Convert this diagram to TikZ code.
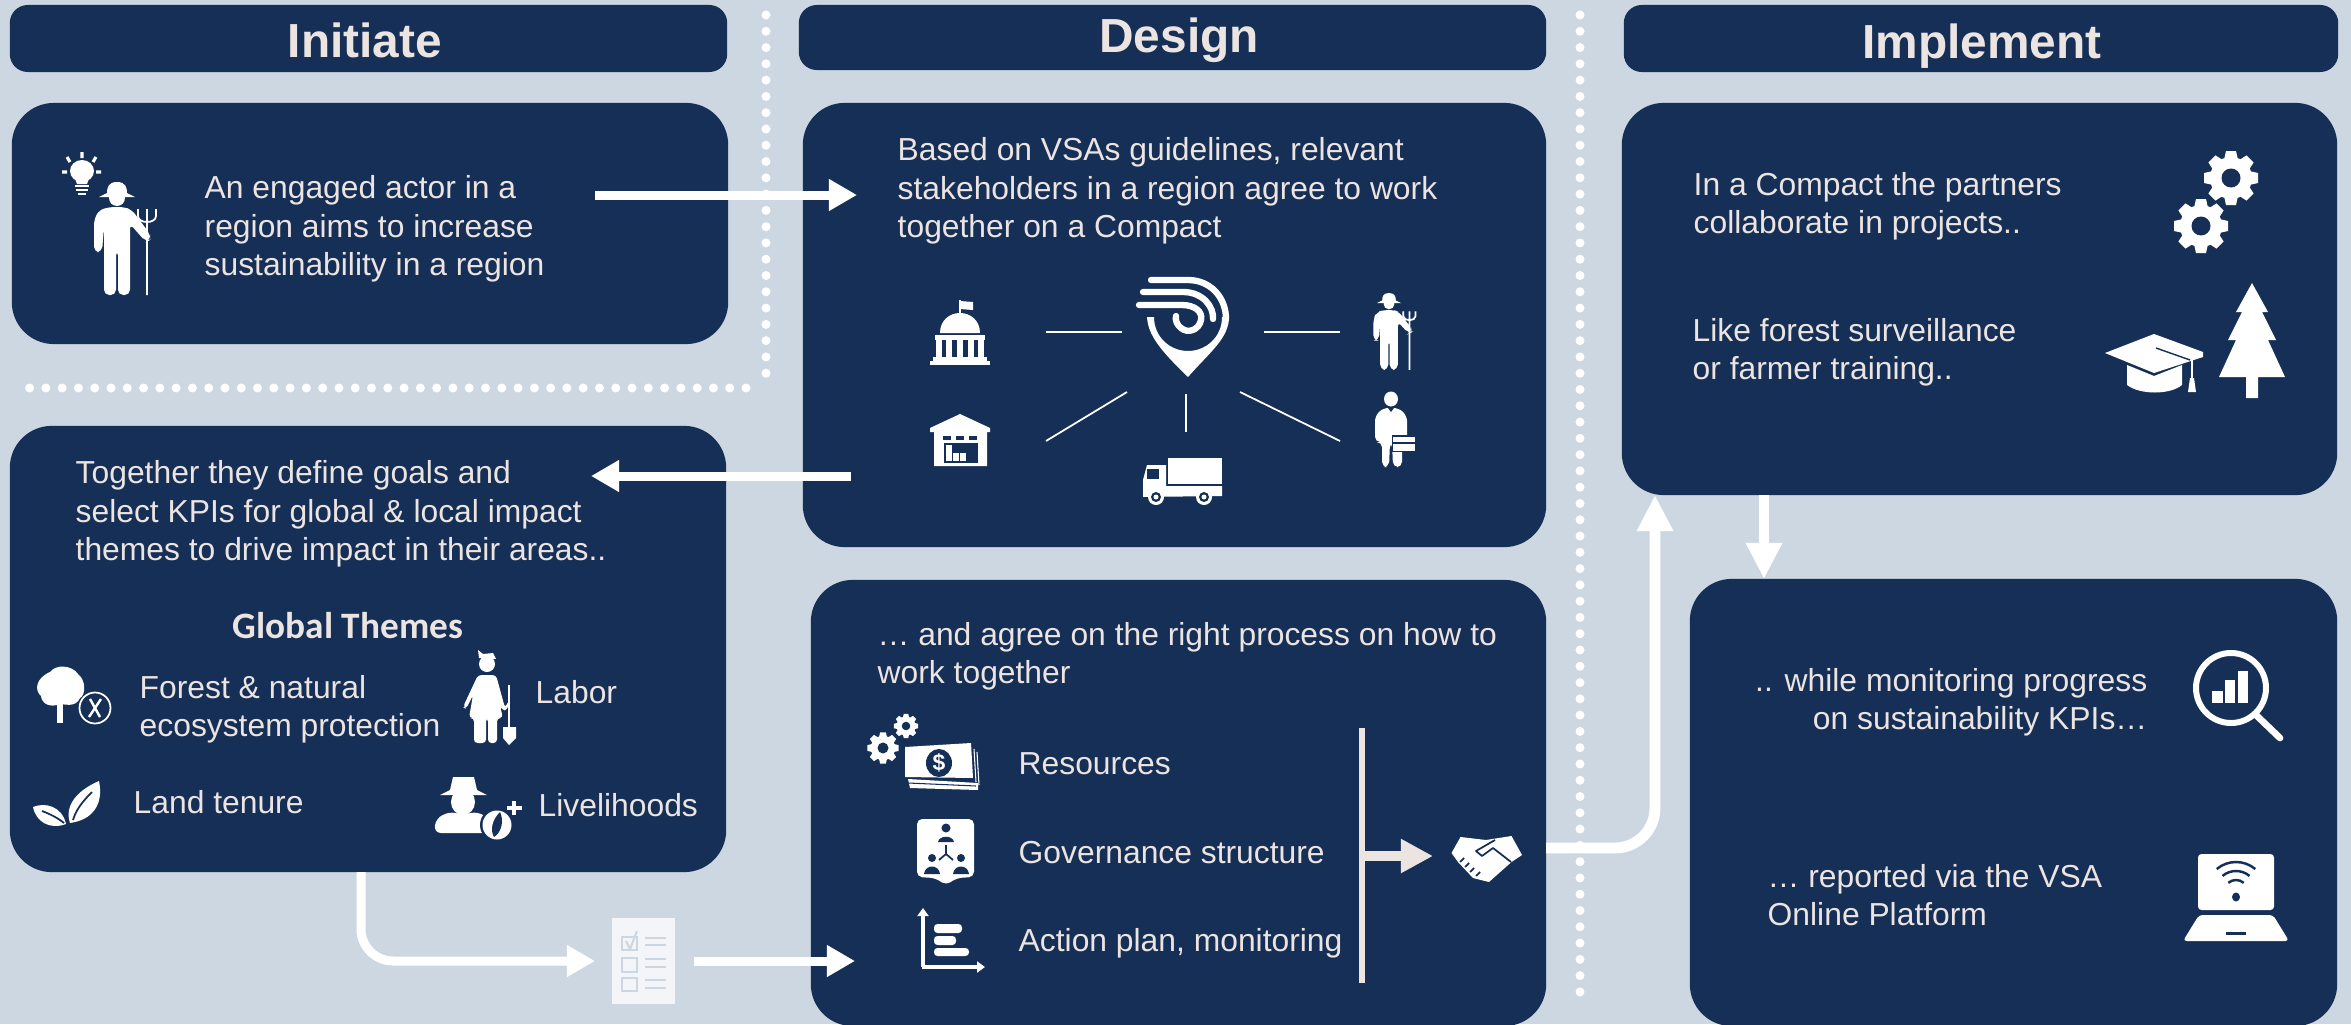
\documentclass[tikz,border=0pt]{standalone}
\usepackage{fontspec}
\setmainfont{Liberation Sans}
\newfontfamily\themefont{Carlito}
\usetikzlibrary{arrows.meta}
\definecolor{navybox}{HTML}{162F56}
\definecolor{paleback}{HTML}{CDD7E2}
\definecolor{warmtext}{HTML}{EBE4E1}
\definecolor{sheetwhite}{HTML}{F3F5F8}

\begin{document}
\begin{tikzpicture}
[
x=0.01cm,y=-0.01cm,
panel/.style={draw=none,fill=navybox,rounded corners=0.42cm,inner sep=0pt},
headbar/.style={panel,rounded corners=0.18cm},
headtext/.style={text=warmtext,inner sep=0pt,font=\fontsize{13.6}{15}\selectfont\bfseries},
bodytext/.style={text=warmtext,inner sep=0pt,anchor=west,align=left,font=\fontsize{9.05}{10.9}\selectfont},
flow/.style={draw=white,line width=2.56pt,-{Triangle[length=0.28cm,width=0.3cm]}},
bigflow/.style={draw=white,line width=3.1pt,rounded corners=0.4cm,-{Triangle[length=0.36cm,width=0.34cm]}},
dotline/.style={draw=white,line width=2.56pt,line cap=round,dash pattern=on 0pt off 4.63pt},
spoke/.style={draw=white,line width=0.5pt},
farmer/.pic={
  \fill[white] (0,0) .. controls (-9,0) and (-10,6) .. (-10,11) -- (-18,15) -- (18,15) -- (10,11) .. controls (10,6) and (9,0) .. (0,0) -- cycle;
  \fill[white] (0,16) circle[radius=8];
  \fill[white,rounded corners=1.5] (-7,25) -- (7,25) -- (15,28) -- (33,52) -- (33,58) -- (29,60) -- (13,42) -- (13,113) -- (1,113) -- (1,68) -- (-1,68) -- (-1,113) -- (-13,113) -- (-13,45) -- (-15,70) -- (-23,70) -- (-23,38) -- (-18,28) -- cycle;
  \draw[white,line width=0.5pt] (30,27) -- (30,113) (21,27) -- (21,34) .. controls (21,42) and (39,42) .. (39,34) -- (39,27);
},
gearwheel/.pic={
  \foreach \a in {0,45,...,315} {\fill[white,rotate=\a] (-5,-27) -- (5,-27) -- (7,-18) -- (-7,-18) -- cycle;}
  \fill[white] (0,0) circle[radius=21];
  \fill[navybox] (0,0) circle[radius=9.5];
},
]
\useasboundingbox (0,0) rectangle (2351,1024);
\fill[paleback] (0,0) rectangle (2351,1024);

\coordinate (dotAtop) at (766,15);
\coordinate (dotAend) at (766,377);
\coordinate (dotBtop) at (746,388);
\coordinate (dotBend) at (26,388);
\coordinate (dotCtop) at (1580,15);
\coordinate (dotCend) at (1580,994);
\draw[dotline] (dotAtop) -- (dotAend);
\draw[dotline] (dotBtop) -- (dotBend);
\draw[dotline] (dotCtop) -- (dotCend);

\node[headbar,minimum width=7.17cm,minimum height=0.67cm] (initiatehead) at (368.5,38.5) {};
\node[headbar,minimum width=7.47cm,minimum height=0.65cm] (designhead) at (1172.5,37.5) {};
\node[headbar,minimum width=7.14cm,minimum height=0.67cm] (implementhead) at (1981,38.5) {};
\node[headtext] (initiatetext) at (365,40) {Initiate};
\node[headtext] (designtext) at (1179,40) {Design};
\node[headtext] (implementtext) at (1982,46) {Implement};

\node[panel,minimum width=7.16cm,minimum height=2.41cm] (initone) at (370,223.5) {};
\node[panel,minimum width=7.16cm,minimum height=4.46cm] (inittwo) at (368,649) {};
\node[panel,minimum width=7.43cm,minimum height=4.44cm] (desone) at (1174.5,325) {};
\node[panel,minimum width=7.35cm,minimum height=4.46cm] (destwo) at (1178.5,803) {};
\node[panel,minimum width=7.15cm,minimum height=3.92cm] (impone) at (1979.5,299) {};
\node[panel,minimum width=6.47cm,minimum height=4.47cm] (imptwo) at (2013.5,802.5) {};

\node[bodytext] (actortext) at (204,229) {An engaged actor in a\\region aims to increase\\sustainability in a region};
\node[bodytext] (agreetext) at (897,191) {Based on VSAs guidelines, relevant\\stakeholders in a region agree to work\\together on a Compact};
\node[bodytext] (goaltext) at (75,514) {Together they define goals and\\select KPIs for global \& local impact\\themes to drive impact in their areas..};
\node[text=warmtext,inner sep=0pt,font=\themefont\fontsize{10.6}{12}\selectfont\bfseries] (globaltext) at (348,626) {Global Themes};
\node[bodytext] (foresttext) at (139,709) {Forest \& natural\\ecosystem protection};
\node[bodytext] (labortext) at (535,692) {Labor};
\node[bodytext] (landtext) at (133,802) {Land tenure};
\node[bodytext] (livetext) at (538,805) {Livelihoods};
\node[bodytext] (processtext) at (877,656) {… and agree on the right process on how to\\work together};
\node[bodytext] (resourcetext) at (1018,764) {Resources};
\node[bodytext] (governtext) at (1018,853) {Governance structure};
\node[bodytext] (plantext) at (1018,943) {Action plan, monitoring};
\node[bodytext] (compacttext) at (1693,206) {In a Compact the partners\\collaborate in projects..};
\node[bodytext] (liketext) at (1692,352) {Like forest surveillance\\or farmer training..};
\node[bodytext,anchor=east,align=right] (progresstext) at (2148,702) {.. while monitoring progress\\on sustainability KPIs…};
\node[bodytext] (reporttext) at (1767,895) {… reported via the VSA\\Online Platform};

% arrows
\coordinate (flowAs) at (595,195);
\coordinate (flowAe) at (857,195);
\coordinate (flowBs) at (851,476);
\coordinate (flowBe) at (591,476);
\coordinate (flowCs) at (361,872);
\coordinate (flowCm) at (361,961);
\coordinate (flowCe) at (595,961);
\coordinate (flowDs) at (694,961);
\coordinate (flowDe) at (855,961);
\coordinate (flowEs) at (1546,848);
\coordinate (flowEm) at (1655,848);
\coordinate (flowEe) at (1655,495);
\coordinate (flowFs) at (1764,495);
\coordinate (flowFe) at (1764,579);
\coordinate (barS) at (1362,728);
\coordinate (barE) at (1362,983);
\coordinate (barM) at (1362,856);
\coordinate (dealTip) at (1433,856);
\draw[flow] (flowAs) -- (flowAe);
\draw[flow] (flowBs) -- (flowBe);
\draw[flow,rounded corners=0.32cm] (flowCs) -- (flowCm) -- (flowCe);
\draw[flow] (flowDs) -- (flowDe);
\draw[bigflow] (flowEs) -- (flowEm) -- (flowEe);
\draw[bigflow] (flowFs) -- (flowFe);
\draw[draw=warmtext,line width=1.7pt] (barS) -- (barE);
\draw[draw=warmtext,line width=3.1pt,-{Triangle[length=0.32cm,width=0.32cm]}] (barM) -- (dealTip);

% spokes round the pin
\coordinate (spokeAs) at (1046,332);
\coordinate (spokeAe) at (1122,332);
\coordinate (spokeBs) at (1264,332);
\coordinate (spokeBe) at (1340,332);
\coordinate (spokeCs) at (1127,392);
\coordinate (spokeCe) at (1046,441);
\coordinate (spokeDs) at (1186,394);
\coordinate (spokeDe) at (1186,432);
\coordinate (spokeEs) at (1240,392);
\coordinate (spokeEe) at (1340,441);
\draw[spoke] (spokeAs) -- (spokeAe);
\draw[spoke] (spokeBs) -- (spokeBe);
\draw[spoke] (spokeCs) -- (spokeCe);
\draw[spoke] (spokeDs) -- (spokeDe);
\draw[spoke] (spokeEs) -- (spokeEe);

% farmers and bulb
\pic at (117,182) {farmer};
\pic[scale=0.68] at (1389,293) {farmer};
\fill[white] (82,171) ellipse[x radius=12,y radius=11];
\fill[white] (74,176) -- (90,176) -- (87,184) -- (77,184) -- cycle;
\draw[white,line width=0.7pt] (75,186) -- (89,186) (76,190) -- (88,190) (78,194) -- (86,194);
\draw[white,line width=0.9pt] (82,152) -- (82,158) (67,157) -- (70,162) (96,157) -- (93,162) (62,172) -- (67,172) (96,172) -- (101,172);

% capitol
\fill[white] (940,333) .. controls (940,320) and (950,313) .. (960,313) .. controls (970,313) and (980,320) .. (980,333) -- cycle;
\draw[white,line width=0.6pt] (960,313) -- (960,300);
\fill[white] (960,301) -- (973,302) -- (973,310) -- (960,309) -- cycle;
\fill[white] (935,335) rectangle (985,340);
\foreach \cx in {939,949,960,971,981} {\fill[white] (\cx-3,340) rectangle (\cx+3,357);}
\fill[white] (933,357) rectangle (987,361);
\fill[white] (930,361) rectangle (990,365);

% warehouse
\fill[white] (960,414) -- (990,428) -- (990,432) -- (987,432) -- (987,466) -- (934,466) -- (934,432) -- (930,432) -- (930,428) -- cycle;
\foreach \wx in {947,960,973} {\fill[navybox] (\wx-4,436) rectangle (\wx+4,440);}
\fill[navybox] (944,443) rectangle (978,463);
\fill[white] (946,445) rectangle (952,461);
\fill[white] (953,453) rectangle (959,461);
\fill[white] (960,453) rectangle (966,461);

% pin
\fill[white] (1147,317) .. controls (1148,335) and (1160,350) .. (1188,377) .. controls (1210,352) and (1229,338) .. (1229,317) -- (1222,317) .. controls (1222,337) and (1206,351) .. (1188,351) .. controls (1170,351) and (1154,337) .. (1154,317) -- cycle;
\draw[white,line width=1.8pt,line cap=round] (1151,280) -- (1188,280) .. controls (1210,280) and (1226,297) .. (1226,319);
\draw[white,line width=1.8pt,line cap=round] (1143,292) -- (1183,292) .. controls (1203,292) and (1214,307) .. (1213,319);
\draw[white,line width=1.8pt,line cap=round] (1139,305) -- (1182,305) .. controls (1195,305) and (1203,312) .. (1201,320) .. controls (1199,330) and (1188,334) .. (1181,328) .. controls (1177,325) and (1175,320) .. (1176,316);

% truck
\fill[white] (1168,458) rectangle (1222,484);
\fill[white] (1143,497) -- (1143,480) -- (1147,465) -- (1166,465) -- (1166,486) -- (1222,486) -- (1222,496) -- cycle;
\fill[navybox] (1147,469) rectangle (1159,479);
\foreach \wx in {1156,1204} {\fill[white] (\wx,497) circle[radius=8]; \fill[navybox] (\wx,497) circle[radius=5]; \fill[white] (\wx,497) circle[radius=2.5];}

% man with case
\fill[white] (1391,399) ellipse[x radius=7,y radius=7.5];
\fill[white,rounded corners=1.5] (1383,408) -- (1399,408) -- (1407,416) -- (1407,441) -- (1402,441) -- (1402,467) -- (1393,467) -- (1392,442) -- (1390,442) -- (1389,467) -- (1382,467) -- (1382,442) -- (1375,442) -- (1375,416) -- cycle;
\fill[navybox] (1388,408) -- (1394,408) -- (1391,412) -- cycle;
\fill[navybox] (1392,435) rectangle (1416,452);
\fill[white] (1393,437) rectangle (1415,451);
\draw[navybox,line width=0.3pt] (1393,443) -- (1415,443);

% labor woman
\fill[white] (487,664) circle[radius=8];
\fill[white] (479,658) -- (478,650) -- (483,654) -- (493,653) -- (496,659) -- cycle;
\fill[white,rounded corners=1] (478,675) -- (496,675) -- (505,708) -- (509,700) -- (510,703) -- (505,712) -- (500,706) -- (503,718) -- (497,718) -- (497,743) -- (488,743) -- (488,718) -- (486,718) -- (486,743) -- (474,743) -- (474,718) -- (469,718) -- (473,695) -- (466,709) -- (463,707) -- cycle;
\draw[white,line width=0.5pt] (509,685) -- (509,727);
\fill[white] (503,727) -- (516,727) -- (516,738) -- (509,745) -- (503,738) -- cycle;

% tree with ban
\fill[white] (50,672) .. controls (56,664) and (72,665) .. (78,674) .. controls (86,680) and (86,695) .. (80,698) .. controls (76,708) and (64,704) .. (60,704) .. controls (50,708) and (42,704) .. (41,696) .. controls (34,690) and (36,678) .. (50,672) -- cycle;
\fill[white] (57,700) rectangle (63,723);
\draw[white,line width=0.5pt] (95,708) circle[radius=15.5];
\draw[white,line width=0.7pt] (90,699) -- (100,717) (101,699) -- (89,717);

% leaves
\fill[white] (99,781) .. controls (78,790) and (64,805) .. (70,823) .. controls (92,820) and (104,805) .. (99,781) -- cycle;
\draw[navybox,line width=0.5pt] (92,792) .. controls (82,802) and (76,810) .. (73,820);
\fill[white] (33,807) .. controls (45,802) and (62,806) .. (66,824) .. controls (50,830) and (36,822) .. (33,807) -- cycle;
\draw[navybox,line width=0.5pt] (42,811) .. controls (50,814) and (58,818) .. (64,823);

% livelihood person
\fill[white] (450,790) -- (453,777) -- (474,777) -- (477,790) -- (487,795) -- (440,795) -- cycle;
\fill[white] (463,802) ellipse[x radius=12,y radius=13];
\fill[white,rounded corners=2] (452,811) -- (463,816) -- (474,811) -- (490,818) -- (490,833) -- (434,833) -- (436,818) -- cycle;
\fill[navybox] (497,825) circle[radius=17];
\fill[white] (497,825) circle[radius=14.5];
\fill[navybox] (500,812) .. controls (492,820) and (490,830) .. (494,837) .. controls (502,832) and (504,820) .. (500,812) -- cycle;
\draw[white,line width=0.9pt] (514,801) -- (514,815) (507,808) -- (522,808);

% gears, money
\pic[scale=0.58] at (883,748) {gearwheel};
\pic[scale=0.45] at (906,726) {gearwheel};
\fill[white] (905,747) -- (971,743) -- (973,778) -- (905,777) -- cycle;
\fill[white] (908,779) -- (978,783) -- (978,790) -- (910,788) -- cycle;
\draw[white,line width=0.3pt] (974,749) -- (976,782) (977,752) -- (979,785);
\draw[navybox,line width=0.3pt] (908,783) -- (976,786);
\fill[navybox] (939,763) ellipse[x radius=13,y radius=14];
\node[text=white,inner sep=0pt,font=\fontsize{6.5}{7}\selectfont\bfseries] (dollarsign) at (939,763) {\$};

% shield with people
\fill[white,rounded corners=1.5] (917,819) -- (974,819) -- (974,877) -- (957,878) -- (946,885) -- (935,878) -- (917,877) -- cycle;
\fill[navybox] (946,828) circle[radius=4.5];
\fill[navybox] (938,842) .. controls (939,835) and (953,835) .. (954,842) -- cycle;
\draw[navybox,line width=0.5pt] (946,845) -- (946,854) -- (939,860) (946,854) -- (953,860);
\foreach \px in {932,961} {\fill[navybox] (\px,858) circle[radius=4]; \fill[navybox] (\px-8,874) .. controls (\px-7,864) and (\px+7,864) .. (\px+8,874) -- cycle;}

% chart
\draw[white,line width=0.9pt,-{Triangle[length=0.08cm,width=0.11cm]}] (923,967) -- (923,908);
\draw[white,line width=0.9pt,-{Triangle[length=0.08cm,width=0.11cm]}] (922,967) -- (985,967);
\fill[white,rounded corners=1] (934,924) rectangle (962,933);
\fill[white,rounded corners=1] (934,936) rectangle (956,945);
\fill[white,rounded corners=1] (934,948) rectangle (969,956);

% handshake
\fill[white] (1451.5,853) -- (1460.5,837) -- (1486,840) -- (1511.5,836) -- (1522,855) -- (1511.5,862) -- (1489,882) -- (1473,878) -- (1458,862) -- cycle;
\draw[navybox,line width=0.5pt,line join=round] (1495,840) -- (1476,851) -- (1482,856) -- (1493,848) -- (1511,862);
\draw[navybox,line width=0.5pt] (1464,858) -- (1460,862) (1469,863) -- (1465,867) (1474,868) -- (1470,872) (1480,872) -- (1476,876);

% upper gears, hat, pine
\pic at (2231,178) {gearwheel};
\pic at (2201,226) {gearwheel};
\fill[white] (2154,334) -- (2203,352) -- (2203,357) -- (2154,373) -- (2105,353) -- cycle;
\fill[white] (2127,365) -- (2154,376) -- (2182,365) -- (2182,385) .. controls (2170,395) and (2140,395) .. (2127,385) -- cycle;
\draw[navybox,line width=0.4pt] (2156,348) -- (2190,360);
\draw[white,line width=0.5pt] (2192,358) -- (2192,380);
\fill[white] (2190,378) -- (2194,378) -- (2196,392) -- (2188,392) -- cycle;
\fill[white] (2252,283) -- (2268,312) -- (2262,312) -- (2276,340) -- (2268,340) -- (2285,377) -- (2258,377) -- (2258,398) -- (2246,398) -- (2246,377) -- (2219,377) -- (2236,340) -- (2228,340) -- (2242,312) -- (2236,312) -- cycle;

% magnifier
\draw[white,line width=1.7pt] (2231,688) circle[radius=35];
\draw[white,line width=1.9pt,line cap=round] (2256,715) -- (2280,738);
\fill[white] (2212,691) rectangle (2223,703);
\fill[white] (2225,680) rectangle (2235,703);
\fill[white] (2238,671) rectangle (2248,703);

% laptop
\fill[white,rounded corners=1] (2198,854) rectangle (2274,910);
\fill[white,rounded corners=1] (2199,915) -- (2273,915) -- (2289,941) -- (2183,941) -- cycle;
\fill[navybox] (2226,932) rectangle (2246,935);
\fill[navybox] (2236,897) ellipse[x radius=4,y radius=4.5];
\foreach \wr in {12,21,30} {\draw[navybox,line width=0.7pt] (2236,892) ++(230:\wr) arc[start angle=230,end angle=310,radius=\wr];}

% checklist
\fill[sheetwhite] (612,918) rectangle (675,1004);
\draw[paleback,line width=0.7pt] (622,937) rectangle (637,950);
\draw[paleback,line width=0.7pt] (622,958) rectangle (637,972);
\draw[paleback,line width=0.7pt] (622,978) rectangle (637,991);
\draw[paleback,line width=0.6pt] (626,941) -- (630,949) -- (637,931);
\foreach \ly in {938,945,959,967,980,988} {\draw[paleback,line width=0.6pt] (645,\ly) -- (666,\ly);}
\end{tikzpicture}
\end{document}
